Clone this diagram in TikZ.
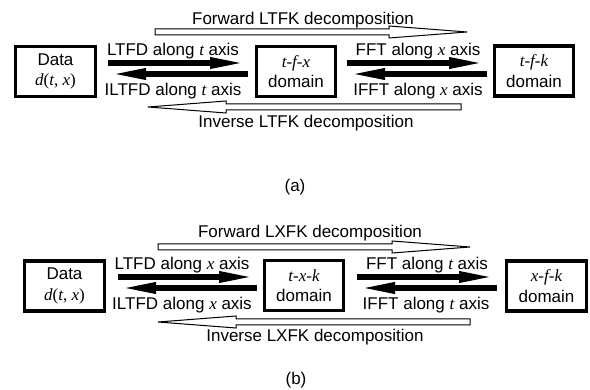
\documentclass[tikz,border=0pt]{standalone}
\usepackage{fontspec}
\setmainfont{Liberation Sans}
\newfontfamily\tms{Liberation Serif}
\usetikzlibrary{arrows.meta}
\newcommand{\mi}[1]{{\tms\itshape #1}}
\newcommand{\hollowarr}[3]{%
  \draw[hollowline] ([yshift=3pt]#1) -- ([xshift=#3,yshift=3pt]#2) -- ([xshift=#3,yshift=6pt]#2) -- (#2)
    -- ([xshift=#3,yshift=-6pt]#2) -- ([xshift=#3,yshift=-3pt]#2) -- ([yshift=-3pt]#1) -- cycle;}
\begin{document}
\begin{tikzpicture}[x=1pt,y=-1pt,
  font=\fontsize{17}{20.5}\selectfont,
  box/.style={draw, line width=3.4pt, minimum width=79.5pt, minimum height=50pt, align=center, inner sep=0pt},
  lbl/.style={anchor=base, inner sep=0pt},
  solidarr/.style={line width=6pt, -{Triangle[length=38pt,width=10pt]}},
  hollowline/.style={draw, fill=white, line width=1pt, line join=miter}]
\useasboundingbox (0,0) rectangle (590,390);

% ---------- panel (a) ----------
\node[box] (dataA) at (55.5,71.5) {Data\\\mi{d}{\tms(}\mi{t}{\tms, }\mi{x}{\tms)}};
\node[box] (tfx) at (296,71.5) {\mi{t-f-x}\\domain};
\node[box] (tfk) at (534,71) {\mi{t-f-k}\\domain};

\coordinate (fwdAt) at (155,32);
\coordinate (fwdAh) at (467,32);
\coordinate (invAt) at (461,107);
\coordinate (invAh) at (148,107);
\hollowarr{fwdAt}{fwdAh}{-78pt}
\hollowarr{invAt}{invAh}{78pt}

\coordinate (a1) at (108,63); \coordinate (a2) at (248,63);
\coordinate (a3) at (248,74); \coordinate (a4) at (108,74);
\coordinate (a5) at (347,63); \coordinate (a6) at (487,63);
\coordinate (a7) at (487,74); \coordinate (a8) at (347,74);
\draw[solidarr] (a1) -- (a2);
\draw[solidarr] (a3) -- (a4);
\draw[solidarr] (a5) -- (a6);
\draw[solidarr] (a7) -- (a8);

\node[lbl] (fwdAl) at (303,25) {Forward LTFK decomposition};
\node[lbl] (ltfdA) at (173,55.5) {LTFD along \mi{t} axis};
\node[lbl] (iltfdA) at (173,96) {ILTFD along \mi{t} axis};
\node[lbl] (fftA) at (418,55.5) {FFT along \mi{x} axis};
\node[lbl] (ifftA) at (418,96) {IFFT along \mi{x} axis};
\node[lbl] (invAl) at (306,128) {Inverse LTFK decomposition};
\node[lbl] (capA) at (295,192) {(a)};

% ---------- panel (b) ----------
\node[box] (dataB) at (64.5,286) {Data\\\mi{d}{\tms(}\mi{t}{\tms, }\mi{x}{\tms)}};
\node[box] (txk) at (304,285.5) {\mi{t-x-k}\\domain};
\node[box] (xfk) at (546.5,286) {\mi{x-f-k}\\domain};

\coordinate (fwdBt) at (158,247);
\coordinate (fwdBh) at (470,247);
\coordinate (invBt) at (470,322);
\coordinate (invBh) at (158,322);
\hollowarr{fwdBt}{fwdBh}{-78pt}
\hollowarr{invBt}{invBh}{78pt}

\coordinate (b1) at (118,277); \coordinate (b2) at (257,277);
\coordinate (b3) at (257,288); \coordinate (b4) at (118,288);
\coordinate (b5) at (357,277); \coordinate (b6) at (497,277);
\coordinate (b7) at (497,288); \coordinate (b8) at (357,288);
\draw[solidarr] (b1) -- (b2);
\draw[solidarr] (b3) -- (b4);
\draw[solidarr] (b5) -- (b6);
\draw[solidarr] (b7) -- (b8);

\node[lbl] (fwdBl) at (310,238) {Forward LXFK decomposition};
\node[lbl] (ltfdB) at (182,270) {LTFD along \mi{x} axis};
\node[lbl] (iltfdB) at (182,310) {ILTFD along \mi{x} axis};
\node[lbl] (fftB) at (427,270) {FFT along \mi{t} axis};
\node[lbl] (ifftB) at (426,310) {IFFT along \mi{t} axis};
\node[lbl] (invBl) at (315,342) {Inverse LXFK decomposition};
\node[lbl] (capB) at (296,385) {(b)};
\end{tikzpicture}
\end{document}
